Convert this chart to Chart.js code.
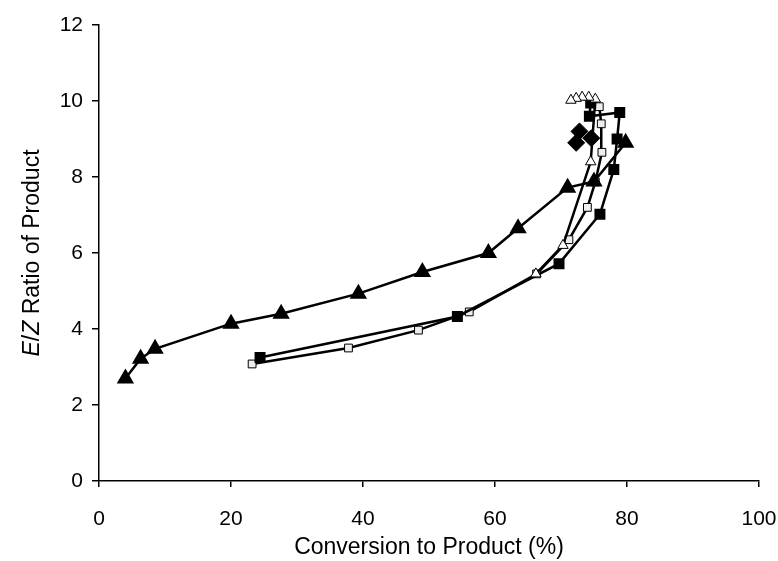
<!DOCTYPE html>
<html>
<head>
<meta charset="utf-8">
<script src="https://cdn.jsdelivr.net/npm/chart.js@4"></script>
<style>
    html, body { margin: 0; padding: 0; background: #fff; }
    #wrap { width: 778px; height: 561px; }
</style>
</head>
<body>
<div id="wrap"><canvas id="chart" width="778" height="561"></canvas></div>
<script>
// Axis ranges
const xTicks = [0, 20, 40, 60, 80, 100];
const yTicks = [0, 2, 4, 6, 8, 10, 12];

// Filled triangles
const triFilledX = [4.0, 6.3, 8.5, 20.0, 27.6, 39.3, 49.0, 59.0, 63.5, 71.0, 75.0, 79.8];
const triFilledY = [2.7, 3.22, 3.48, 4.14, 4.4, 4.93, 5.5, 6.0, 6.65, 7.72, 7.88, 8.9];

// Open triangles
const triOpenX = [66.2, 70.3, 74.5, 75.2, 74.2, 73.2, 72.3, 71.5];
const triOpenY = [5.45, 6.2, 8.4, 10.05, 10.1, 10.1, 10.07, 10.02];

// Filled squares
const sqFilledX = [24.4, 54.3, 69.7, 75.9, 78.0, 78.5, 78.9, 74.3, 74.5];
const sqFilledY = [3.25, 4.33, 5.72, 7.02, 8.2, 9.0, 9.7, 9.6, 9.95];

// Open squares
const sqOpenX = [23.2, 37.8, 48.4, 56.1, 66.3, 71.2, 74.0, 75.2, 76.2, 76.1, 75.8];
const sqOpenY = [3.08, 3.5, 3.97, 4.45, 5.45, 6.35, 7.2, 7.87, 8.65, 9.4, 9.85];

// Filled diamonds
const diamondX = [72.3, 72.8, 74.6];
const diamondY = [8.9, 9.2, 9.02];

const fontFamily = '"Liberation Sans", Arial, sans-serif';

function toPoints(xs, ys) {
    return xs.map((x, i) => ({ x: x, y: ys[i] }));
}

// Rotated y title with italic E and Z
const yTitlePlugin = {
    id: 'yTitle',
    afterDraw(chart) {
        const ctx = chart.ctx;
        const area = chart.chartArea;
        const parts = [
            { t: 'E', f: 'italic 23px ' + fontFamily },
            { t: '/', f: '23px ' + fontFamily },
            { t: 'Z', f: 'italic 23px ' + fontFamily },
            { t: ' Ratio of Product', f: '23px ' + fontFamily }
        ];
        ctx.save();
        let total = 0;
        parts.forEach(p => { ctx.font = p.f; total += ctx.measureText(p.t).width; });
        ctx.translate(33, (area.top + area.bottom) / 2);
        ctx.rotate(-Math.PI / 2);
        ctx.fillStyle = '#000';
        ctx.textBaseline = 'middle';
        let x = -total / 2;
        parts.forEach(p => {
            ctx.font = p.f;
            ctx.fillText(p.t, x, 0);
            x += ctx.measureText(p.t).width;
        });
        ctx.restore();
    }
};

const lineW = 2.5;
const datasets = [
    {
        data: toPoints(triFilledX, triFilledY),
        pointStyle: 'triangle', pointRadius: 7.5,
        borderColor: '#000', backgroundColor: '#000',
        pointBackgroundColor: '#000', pointBorderColor: '#000', borderWidth: lineW
    },
    {
        data: toPoints(triOpenX, triOpenY),
        pointStyle: 'triangle', pointRadius: 6,
        borderColor: '#000', pointBackgroundColor: '#fff', pointBorderColor: '#000',
        pointBorderWidth: 1, borderWidth: lineW
    },
    {
        data: toPoints(sqFilledX, sqFilledY),
        pointStyle: 'rect', pointRadius: 6,
        borderColor: '#000', pointBackgroundColor: '#000', pointBorderColor: '#000',
        borderWidth: lineW
    },
    {
        data: toPoints(sqOpenX, sqOpenY),
        pointStyle: 'rect', pointRadius: 5.5,
        borderColor: '#000', pointBackgroundColor: '#eee', pointBorderColor: '#000',
        pointBorderWidth: 1, borderWidth: lineW
    },
    {
        data: toPoints(diamondX, diamondY),
        showLine: false,
        pointStyle: 'rectRot', pointRadius: 8.5,
        borderColor: '#000', pointBackgroundColor: '#000', pointBorderColor: '#000'
    }
];

new Chart(document.getElementById('chart'), {
    type: 'scatter',
    data: { datasets: datasets.map(d => Object.assign({ showLine: true, tension: 0 }, d)) },
    options: {
        responsive: false,
        animation: false,
        layout: { padding: { top: 25, right: 19, bottom: 0, left: 0 } },
        plugins: { legend: { display: false }, tooltip: { enabled: false } },
        scales: {
            x: {
                type: 'linear', min: 0, max: 100,
                afterBuildTicks: s => { s.ticks = xTicks.map(v => ({ value: v })); },
                afterFit: s => { s.height = 80; s.paddingLeft = 0; s.paddingRight = 0; },
                grid: { drawOnChartArea: false, drawTicks: true, tickLength: 6, color: '#000', lineWidth: 1.5 },
                border: { color: '#000', width: 1.5 },
                ticks: { color: '#000', padding: 20, font: { family: fontFamily, size: 21 } },
                title: {
                    display: true, text: 'Conversion to Product (%)', color: '#000',
                    padding: { top: 0, bottom: 0 },
                    font: { family: fontFamily, size: 23 }
                }
            },
            y: {
                type: 'linear', min: 0, max: 12,
                afterBuildTicks: s => { s.ticks = yTicks.map(v => ({ value: v })); },
                afterFit: s => { s.width = 99; s.paddingTop = 0; s.paddingBottom = 0; },
                grid: { drawOnChartArea: false, drawTicks: true, tickLength: 7, color: '#000', lineWidth: 1.5 },
                border: { color: '#000', width: 1.5 },
                ticks: { color: '#000', padding: 9, font: { family: fontFamily, size: 21 } }
            }
        }
    },
    plugins: [yTitlePlugin]
});
</script>
</body>
</html>
